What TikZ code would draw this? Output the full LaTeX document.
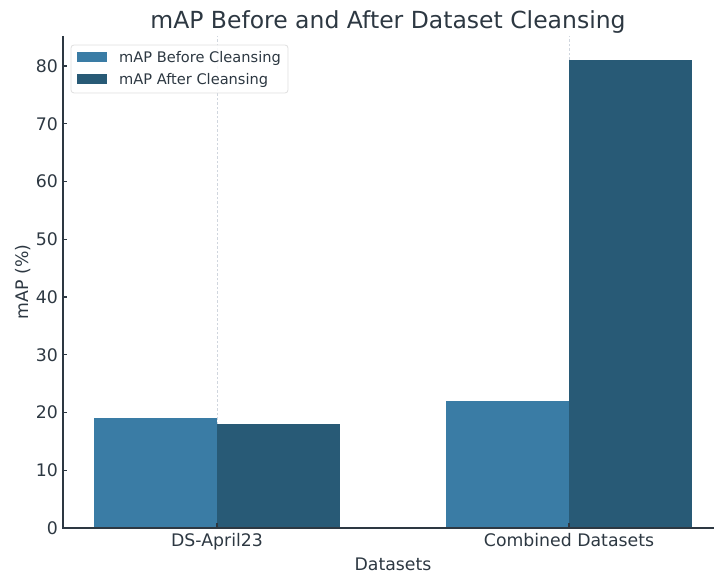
\documentclass[tikz,border=0pt]{standalone}
\usepackage{fontspec}
\setmainfont{DejaVu Sans}
\usetikzlibrary{positioning}
\definecolor{beforebar}{RGB}{58,124,165}
\definecolor{afterbar}{RGB}{40,90,118}
\definecolor{inktext}{RGB}{45,56,66}
\definecolor{gridgray}{RGB}{208,214,222}
\tikzset{
  titletext/.style={text=inktext, inner sep=0pt, font=\fontsize{23.5}{26}\selectfont},
  ticktext/.style={text=inktext, inner sep=0pt, font=\fontsize{17.3}{20}\selectfont},
  legendtext/.style={text=inktext, inner sep=0pt, font=\fontsize{14.6}{17}\selectfont},
  barbefore/.style={fill=beforebar},
  barafter/.style={fill=afterbar},
  gridline/.style={draw=gridgray, line width=0.8pt, dash pattern=on 2.5pt off 2pt},
  spine/.style={draw=inktext, line width=1.1pt},
}

\begin{document}
\begin{tikzpicture}[x=1pt, y=1pt]
      \useasboundingbox (0,0) rectangle (714,575);

      % title and axis labels
      \node[titletext, anchor=base] (title) at (388,546.7) {mAP Before and After Dataset Cleansing};
      \node[ticktext, anchor=base] (xlabel) at (393,5) {Datasets};
      \node[ticktext, anchor=base, rotate=90] (ylabel) at (28,293) {mAP (\%)};

      % plot area: one unit per category, y in percent
      \begin{scope}[shift={(217,47)}, x=352pt, y=5.775pt]
        \draw[gridline] (0,0) -- (0,85.2);
        \draw[gridline] (1,0) -- (1,85.2);

        \foreach \c/\b/\a in {0/19/18, 1/22/81} {
          \fill[barbefore] (\c-0.35,0) rectangle (\c,\b);
          \fill[barafter] (\c,0) rectangle (\c+0.35,\a);
        }

        \draw[spine] (-0.4375,85.2) -- (-0.4375,0) -- (1.42,0);

        \foreach \v in {0,10,...,80} {
          \draw[spine] (-0.4375,\v) -- ++(4pt,0);
          \node[ticktext, anchor=east] (yt\v) at ([xshift=-5pt]-0.4375,\v) {\v};
        }

        \draw[spine] (0,0) -- ++(0,5pt);
        \draw[spine] (1,0) -- ++(0,5pt);
        \node[ticktext, anchor=base] (xt0) at ([yshift=-18.7pt]0,0) {DS-April23};
        \node[ticktext, anchor=base] (xt1) at ([yshift=-18.7pt]1,0) {Combined Datasets};
      \end{scope}

      % legend
      \filldraw[draw=gray!25, fill=white, fill opacity=0.85, rounded corners=3pt, line width=0.8pt]
        (71,530) rectangle (288,482);
      \fill[beforebar] (77,523) rectangle (107,513);
      \fill[afterbar] (77,501) rectangle (107,491);
      \node[legendtext, anchor=base west] (legbefore) at (119,512.3) {mAP Before Cleansing};
      \node[legendtext, anchor=base west] (legafter) at (119,490.3) {mAP After Cleansing};
\end{tikzpicture}
\end{document}
